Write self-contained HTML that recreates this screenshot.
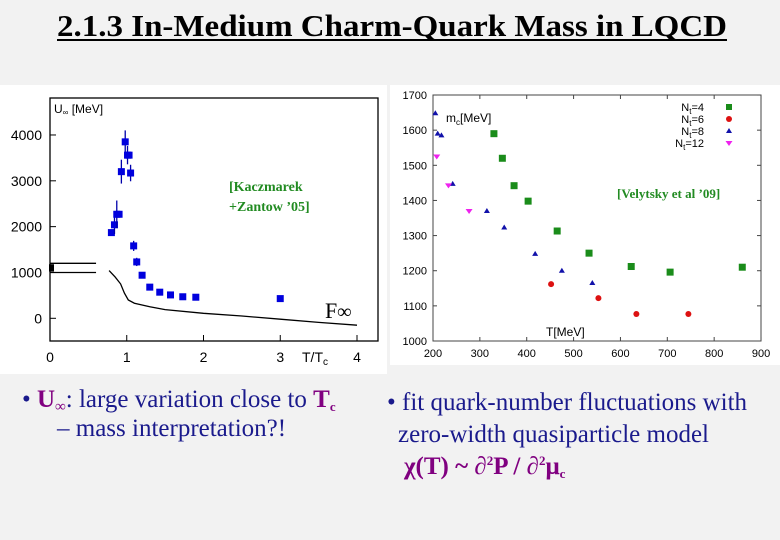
<!DOCTYPE html>
<html><head><meta charset="utf-8"><style>
html,body{margin:0;padding:0;background:#f2f2f2;}
svg{display:block;}
</style></head><body>
<svg id="s" width="780" height="540" xmlns="http://www.w3.org/2000/svg">
<rect x="0" y="0" width="780" height="540" fill="#f2f2f2"/>
<text x="57" y="36" textLength="670" lengthAdjust="spacingAndGlyphs" font-family="Liberation Serif, serif" font-weight="bold" font-size="31" fill="#000">2.1.3 In-Medium Charm-Quark Mass in LQCD</text>
<line x1="57" y1="40" x2="727" y2="40" stroke="#000" stroke-width="2"/>
<rect x="0" y="85" width="387" height="289" fill="#fff"/>
<rect x="390" y="85" width="390" height="280" fill="#fff"/>
<g id="L"></g>
<g id="R"></g>
<g font-family="Liberation Serif, serif" font-size="25" fill="#1a1a8c">
<text x="22" y="407">• <tspan fill="#800080" font-weight="bold">U<tspan font-size="15" dy="4">∞</tspan></tspan><tspan dy="-4">: large variation close to </tspan><tspan fill="#800080" font-weight="bold">T<tspan font-size="13" dy="4">c</tspan></tspan></text>
<text x="57" y="436">– mass interpretation?!</text>
<text x="387" y="410">• fit quark-number fluctuations with</text>
<text x="398" y="442">zero-width quasiparticle model</text>
<text x="404" y="474" fill="#800080" font-weight="bold">χ(T) ~  ∂<tspan font-size="13" dy="-9">2</tspan><tspan dy="9">P / ∂</tspan><tspan font-size="13" dy="-9">2</tspan><tspan dy="9">μ</tspan><tspan font-size="13" dy="4">c</tspan></text>
</g>
</svg>
<script>
// ---- Left chart data ----
const uT = [0.80,0.84,0.87,0.90,0.93,0.98,1.01,1.03,1.05,1.09,1.13,1.20,1.30,1.43,1.57,1.73,1.90,3.00];
const uVal = [1870,2040,2270,2270,3200,3850,3560,3560,3170,1580,1230,940,680,570,510,470,460,430];
const uErr = [0,200,300,0,260,250,200,0,180,110,90,0,0,0,0,0,0,0];
const fT = [0.77,0.85,0.92,0.97,1.02,1.10,1.30,1.50,2.00,2.50,3.00,3.50,4.00];
const fVal = [1040,900,750,550,400,330,250,190,110,50,-20,-90,-150];
const lxTicks = [0,1,2,3,4];
const lyTicks = [0,1000,2000,3000,4000];
// ---- Right chart data ----
const n4T = [330,348,373,403,465,533,623,706,860];
const n4M = [1590,1520,1442,1398,1313,1250,1212,1196,1210];
const n6T = [452,553,634,745];
const n6M = [1162,1122,1077,1077];
const n8T = [205,210,218,242,315,352,418,475,540];
const n8M = [1648,1590,1585,1447,1370,1323,1248,1200,1165];
const n12T = [208,233,277];
const n12M = [1525,1443,1370];
const rxTicks = [200,300,400,500,600,700,800,900];
const ryTicks = [1000,1100,1200,1300,1400,1500,1600,1700];
const legendLabels = ['Nt=4','Nt=6','Nt=8','Nt=12'];

const NS='http://www.w3.org/2000/svg';
function mk(parent,tag,attrs,txt){const e=document.createElementNS(NS,tag);for(const k in attrs)e.setAttribute(k,attrs[k]);if(txt!==undefined)e.textContent=txt;parent.appendChild(e);return e;}

// Left
const L=document.getElementById('L');
const lx=t=>50+t*76.75, ly=v=>318.3-v*0.04583;
let fr=mk(L,'rect',{x:50,y:98,width:328,height:243,fill:'none',stroke:'#000','stroke-width':1.3});


lyTicks.forEach(v=>{
  let t=mk(L,'text',{x:42,y:ly(v)+5,'text-anchor':'end','font-family':'Liberation Sans, sans-serif','font-size':14,fill:'#000'},String(v));
  
  
  mk(L,'line',{x1:50,x2:56,y1:ly(v),y2:ly(v),stroke:'#000'});
});
lxTicks.forEach(v=>{
  let t=mk(L,'text',{x:lx(v),y:362,'text-anchor':'middle','font-family':'Liberation Sans, sans-serif','font-size':14,fill:'#000'},String(v));
  
  
  mk(L,'line',{x1:lx(v),x2:lx(v),y1:341,y2:335,stroke:'#000'});
});
let xt=mk(L,'text',{x:302,y:362,'font-family':'Liberation Sans, sans-serif','font-size':14,fill:'#000'});
xt.innerHTML='T/T<tspan font-size="10" dy="3">c</tspan>';


let yt=mk(L,'text',{x:54,y:113,'font-family':'Liberation Sans, sans-serif','font-size':12,fill:'#000'});
yt.innerHTML='U<tspan font-size="8" dy="2">∞</tspan><tspan dy="-2"> [MeV]</tspan>';


mk(L,'line',{x1:lx(0),x2:lx(0.6),y1:ly(1200),y2:ly(1200),stroke:'#000','stroke-width':1.3});
mk(L,'line',{x1:lx(0),x2:lx(0.6),y1:ly(1000),y2:ly(1000),stroke:'#000','stroke-width':1.3});
let bx=mk(L,'rect',{x:lx(0)-1,y:ly(1180),width:5,height:ly(1020)-ly(1180),fill:'#000'});


let fp=mk(L,'path',{d:fT.map((t,i)=>(i?'L':'M')+lx(t).toFixed(1)+' '+ly(fVal[i]).toFixed(1)).join(''),fill:'none',stroke:'#000','stroke-width':1.3});


uT.forEach((t,i)=>{
  if(uErr[i]>0){mk(L,'line',{x1:lx(t),x2:lx(t),y1:ly(uVal[i]-uErr[i]),y2:ly(uVal[i]+uErr[i]),stroke:'#0000aa','stroke-width':1.3});}
  let p=mk(L,'rect',{x:lx(t)-3.5,y:ly(uVal[i])-3.5,width:7,height:7,fill:'#0000dd'});
  
  
});
let k1=mk(L,'text',{x:229,y:191,'font-family':'Liberation Serif, serif','font-weight':'bold','font-size':14,fill:'#228b22'},'[Kaczmarek');


mk(L,'text',{x:229,y:211,'font-family':'Liberation Serif, serif','font-weight':'bold','font-size':14,fill:'#228b22'},'+Zantow ’05]');
let fl=mk(L,'text',{x:325,y:318,'font-family':'Liberation Serif, serif','font-size':22,fill:'#000'});
fl.innerHTML='F<tspan font-weight="bold" font-size="20">∞</tspan>';



// Right
const R=document.getElementById('R');
const rx=t=>433+(t-200)*0.4686, ry=v=>341-(v-1000)*0.3514;
let fr2=mk(R,'rect',{x:433,y:95,width:328,height:246,fill:'none',stroke:'#444','stroke-width':1});


ryTicks.forEach(v=>{
  let t=mk(R,'text',{x:427,y:ry(v)+4,'text-anchor':'end','font-family':'Liberation Sans, sans-serif','font-size':11,fill:'#000'},String(v));
  
  
  mk(R,'line',{x1:433,x2:437,y1:ry(v),y2:ry(v),stroke:'#444'});
  mk(R,'line',{x1:761,x2:757,y1:ry(v),y2:ry(v),stroke:'#444'});
});
rxTicks.forEach(v=>{
  let t=mk(R,'text',{x:rx(v),y:357,'text-anchor':'middle','font-family':'Liberation Sans, sans-serif','font-size':11,fill:'#000'},String(v));
  
  
  mk(R,'line',{x1:rx(v),x2:rx(v),y1:341,y2:337,stroke:'#444'});
  mk(R,'line',{x1:rx(v),x2:rx(v),y1:95,y2:99,stroke:'#444'});
});
let ryt=mk(R,'text',{x:446,y:122,'font-family':'Liberation Sans, sans-serif','font-size':12,fill:'#000'});
ryt.innerHTML='m<tspan font-size="8" dy="3">c</tspan><tspan dy="-3">[MeV]</tspan>';


let rxt=mk(R,'text',{x:546,y:336,'font-family':'Liberation Sans, sans-serif','font-size':12,fill:'#000'},'T[MeV]');


function sq(x,y,c,s){return mk(R,'rect',{x:x-s/2,y:y-s/2,width:s,height:s,fill:c});}
function dot(x,y,c){return mk(R,'circle',{cx:x,cy:y,r:3,fill:c});}
function tri(x,y,c){return mk(R,'polygon',{points:`${x},${y-3} ${x-3},${y+2} ${x+3},${y+2}`,fill:c});}
function itri(x,y,c){return mk(R,'polygon',{points:`${x},${y+3} ${x-3.5},${y-2} ${x+3.5},${y-2}`,fill:c});}
n4T.forEach((t,i)=>{let e=sq(rx(t),ry(n4M[i]),'#1a8c1a',7);});
n6T.forEach((t,i)=>{let e=dot(rx(t),ry(n6M[i]),'#dd1111');});
n8T.forEach((t,i)=>{let e=tri(rx(t),ry(n8M[i]),'#1111aa');});
n12T.forEach((t,i)=>{let e=itri(rx(t),ry(n12M[i]),'#ee22ee');});
const lgY=[107,119,131,143];
legendLabels.forEach((lab,i)=>{
  let t=mk(R,'text',{x:704,y:lgY[i]+4,'text-anchor':'end','font-family':'Liberation Sans, sans-serif','font-size':11,fill:'#000'});
  t.innerHTML='N<tspan font-size="8" dy="3">t</tspan><tspan dy="-3">'+lab.slice(2)+'</tspan>';
  
  
});
sq(729,lgY[0],'#1a8c1a',6);dot(729,lgY[1],'#dd1111');tri(729,lgY[2],'#1111aa');itri(729,lgY[3],'#ee22ee');
let vc=mk(R,'text',{x:617,y:198,'font-family':'Liberation Serif, serif','font-weight':'bold','font-size':13,fill:'#228b22'},'[Velytsky et al ’09]');


</script>
</body></html>
